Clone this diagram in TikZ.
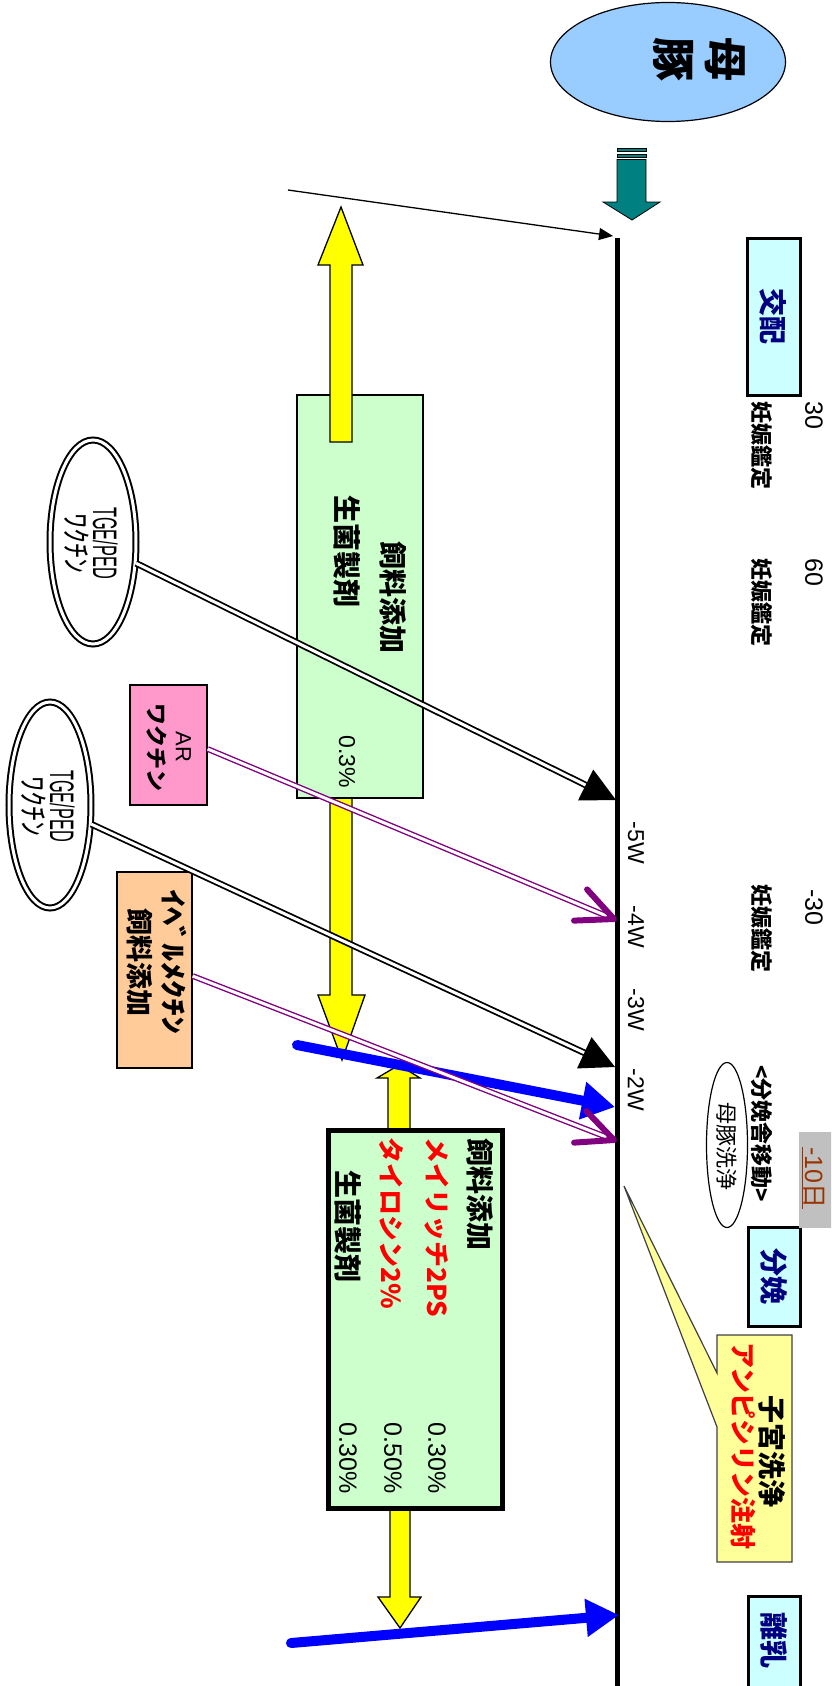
\documentclass[tikz,border=0pt]{standalone}
\usepackage{fontspec}
\setmainfont{Liberation Sans}
\newfontfamily\jp{Noto Sans CJK JP}
\usetikzlibrary{arrows.meta,calc,shapes.geometric}
\definecolor{skyb}{RGB}{153,204,255}
\definecolor{tealc}{RGB}{0,128,128}
\definecolor{cyanbox}{RGB}{204,255,255}
\definecolor{greenbox}{RGB}{204,255,204}
\definecolor{navyt}{RGB}{0,0,128}
\definecolor{pinkbox}{RGB}{255,153,204}
\definecolor{orangebox}{RGB}{255,204,153}
\definecolor{calloutc}{RGB}{255,255,153}
\definecolor{purplec}{RGB}{128,0,128}
\definecolor{brownt}{RGB}{153,51,0}
\definecolor{grayb}{RGB}{192,192,192}
\definecolor{redt}{RGB}{255,0,0}
\definecolor{yellowc}{RGB}{255,255,0}
\definecolor{bluec}{RGB}{0,0,255}
\newcommand\fsz[1]{\fontsize{#1}{#1}\selectfont}
\begin{document}
\begin{tikzpicture}[x=1pt,y=-1pt,
  jb/.style={rotate=-90, inner sep=0pt, font=\jp\bfseries\fsz{#1}},
  jr/.style={rotate=-90, inner sep=0pt, font=\jp\fsz{#1}},
  lr/.style={rotate=-90, inner sep=0pt, font=\fsz{#1}},
  cyanrect/.style={draw, line width=3pt, fill=cyanbox, inner sep=0pt},
  greenrect/.style={draw, line width=2pt, fill=greenbox, inner sep=0pt},
  yarrow/.style={fill=yellowc, draw=black, line width=1.3pt, line join=miter},
  dblack/.style={draw=black, double=white, double distance=3pt, line width=1.8pt},
  dpurple/.style={draw=purplec, double=white, double distance=3pt, line width=1.4pt},
  purplev/.style={draw=purplec, line width=6pt, line cap=round, line join=round},
  bluearr/.style={draw=bluec, line width=10pt, line cap=round, -{Triangle[length=33pt,width=36pt]}},
  dellipse/.style={ellipse, draw=black, double=white, double distance=3pt, line width=2pt, fill=white, inner sep=0pt},
  etext/.style={rotate=-90, inner sep=0pt, align=center, font=\fontsize{34}{28}\selectfont}
]
\useasboundingbox (0,0) rectangle (831,1686);
\clip (0,0) rectangle (831,1686);
\fill[white] (0,0) rectangle (831,1686);

% sow ellipse
\node[ellipse, draw=black, line width=1.2pt, fill=skyb, minimum width=235pt, minimum height=119pt] (sow) at (668,62) {};
\node[rotate=-90, inner sep=0pt, font=\jp\bfseries\fontsize{44}{52}\selectfont, align=center] (sowt) at (699,60) {母\\豚};

% teal arrow
\filldraw[fill=tealc, draw=black, line width=0.8pt] (617,148) rectangle (646,151.5);
\filldraw[fill=tealc, draw=black, line width=0.8pt] (617,154) rectangle (646,157);
\filldraw[fill=tealc, draw=black, line width=0.8pt] (617,159.5) -- (646,159.5) -- (646,202) -- (660,202) -- (632,220) -- (603,202) -- (617,202) -- cycle;

% timeline
\coordinate (tlTop) at (617,238);
\coordinate (tlBot) at (617,1700);
\draw[line width=5pt] (tlTop) -- (tlBot);

% right column
\node[cyanrect, minimum width=53pt, minimum height=157pt] (kohai) at (773.5,316.5) {};
\node[jb=28, text=navyt] (kohait) at (773.5,316.5) {交配};
\node[cyanrect, minimum width=52pt, minimum height=99pt] (bunben) at (774,1276.5) {};
\node[jb=28, text=navyt] (bunbent) at (774,1276.5) {分娩};
\node[cyanrect, minimum width=52pt, minimum height=104pt] (rinyu) at (774,1648) {};
\node[jb=28, text=navyt] (rinyut) at (774,1640) {離乳};

\node[lr=25, anchor=west] (n30) at (814,401) {30};
\node[jb=22, anchor=west] (k30) at (762,401) {妊娠鑑定};
\node[lr=25, anchor=west] (n60) at (814,558) {60};
\node[jb=22, anchor=west] (k60) at (762,558) {妊娠鑑定};
\node[lr=25, anchor=west] (nm30) at (814,889) {-30};
\node[jb=22, anchor=west] (km30) at (762,884) {妊娠鑑定};
\node[jb=22, anchor=west] (move) at (762,1065) {<分娩舎移動>};
\node[ellipse, draw=black, line width=1.2pt, fill=white, minimum width=41pt, minimum height=165pt] (wash) at (727,1145) {};
\node[jr=22] (washt) at (727,1146) {母豚洗浄};
\fill[grayb] (799,1132) rectangle (840,1228);
\node[lr=25, text=brownt] (d10) at (813,1178) {\underline{-10{\jp 日}}};

% callout
\coordinate (calltip) at (624,1186);
\filldraw[fill=calloutc, draw=black!75, line width=1.2pt] (717,1335) -- (792,1335) -- (792,1562) -- (717,1562) -- (717,1427) -- (calltip) -- (717,1373) -- cycle;
\node[jb=28] (cl1) at (772,1451) {子宮洗浄};
\node[jb=26, text=redt] (cl2) at (743,1446) {アンピシリン注射};

% week labels
\node[lr=23] (w5) at (636,843) {-5W};
\node[lr=23] (w4) at (636,927) {-4W};
\node[lr=23] (w3) at (636,1010) {-3W};
\node[lr=23] (w2) at (636,1090) {-2W};

% thin arrow to mating
\coordinate (thinS) at (288,190);
\draw[line width=1.3pt, -{Triangle[length=14pt,width=12pt]}] (thinS) -- (613,236);

% yellow arrows under boxes
\filldraw[yarrow] (330,798) -- (330,995) -- (318,995) -- (342,1060) -- (365,995) -- (352,995) -- (352,798) -- cycle;
\filldraw[yarrow] (388,1132) -- (388,1078) -- (377,1078) -- (399,1065) -- (420,1078) -- (410,1078) -- (410,1132) -- cycle;
\filldraw[yarrow] (390,1508) -- (390,1597) -- (378,1597) -- (400,1628) -- (421,1597) -- (410,1597) -- (410,1508) -- cycle;

% box 1
\node[greenrect, minimum width=126pt, minimum height=403pt] (box1) at (360,596.5) {};
\filldraw[yarrow] (330,442) -- (330,265) -- (318,265) -- (341,207) -- (363,265) -- (352,265) -- (352,442) -- cycle;
\node[jb=28] (b1a) at (393,597) {飼料添加};
\node[jb=28, anchor=west] (b1b) at (347,495) {生菌製剤};
\node[lr=23, anchor=east] (b1c) at (347,788) {0.3\%};

% box 2
\node[draw, line width=5pt, fill=greenbox, inner sep=0pt, minimum width=174pt, minimum height=378pt] (box2) at (415,1319) {};
\node[jb=28, anchor=west] (b2a) at (480,1138) {飼料添加};
\node[jb=26, anchor=west, text=redt] (b2b) at (437,1137) {メイリッチ2PS};
\node[jb=26, anchor=west, text=redt] (b2c) at (392,1137) {タイロシン2\%};
\node[jb=28, anchor=west] (b2d) at (348,1170) {生菌製剤};
\node[lr=25, anchor=east] (b2e) at (437,1494) {0.30\%};
\node[lr=25, anchor=east] (b2f) at (393,1494) {0.50\%};
\node[lr=25, anchor=east] (b2g) at (348,1494) {0.30\%};

% left side nodes
\node[dellipse, minimum width=86pt, minimum height=204pt] (e1) at (93,542) {};
\node[etext] (e1t) at (91,543) {\scalebox{0.48}[1]{TGE/PED}\\{\jp\fontsize{30}{30}\selectfont ﾜｸﾁﾝ}};
\node[dellipse, minimum width=82pt, minimum height=206pt] (e2) at (50,805) {};
\node[etext] (e2t) at (48,806) {\scalebox{0.48}[1]{TGE/PED}\\{\jp\fontsize{30}{30}\selectfont ﾜｸﾁﾝ}};
\node[draw, line width=1.3pt, fill=pinkbox, minimum width=77pt, minimum height=120pt, inner sep=0pt] (ar) at (168.5,745) {};
\node[rotate=-90, inner sep=0pt, align=center, font=\fontsize{22}{27}\selectfont] (art) at (169,747) {AR\\{\jp\bfseries ワクチン}};
\node[draw, line width=1.3pt, fill=orangebox, minimum width=75pt, minimum height=196pt, inner sep=0pt] (iv) at (154.5,970) {};
\node[rotate=-90, inner sep=0pt, align=center, font=\jp\bfseries\fontsize{27}{34}\selectfont] (ivt) at (157,962) {\scalebox{1.35}[1]{ｲﾍﾞﾙﾒｸﾁﾝ}\\飼料添加};

% blue arrows
\coordinate (bl1s) at (297,1045);
\coordinate (bl1t) at (615,1107);
\coordinate (bl2s) at (291,1643);
\coordinate (bl2t) at (619,1615);
\draw[bluearr] (bl1s) -- (bl1t);
\draw[bluearr] (bl2s) -- (bl2t);

% black double arrows
\coordinate (k1t) at (616,800);
\coordinate (k2t) at (615,1067);
\draw[dblack, shorten >=30pt] (e1) -- (k1t);
\fill ($(k1t)!38pt!27:(e1)$) -- (k1t) -- ($(k1t)!38pt!-27:(e1)$) -- cycle;
\draw[dblack, shorten >=30pt] (e2) -- (k2t);
\fill ($(k2t)!38pt!27:(e2)$) -- (k2t) -- ($(k2t)!38pt!-27:(e2)$) -- cycle;

% purple double arrows
\coordinate (p1s) at ($(ar.east)+(0,4)$);
\coordinate (p1t) at (614,919);
\coordinate (p2s) at ($(iv.east)+(0,6)$);
\coordinate (p2t) at (614,1140);
\draw[dpurple, shorten >=4pt] (p1s) -- (p1t);
\draw[purplev] ($(p1t)!40pt!25:(p1s)$) -- (p1t) -- ($(p1t)!40pt!-25:(p1s)$);
\draw[dpurple, shorten >=4pt] (p2s) -- (p2t);
\draw[purplev] ($(p2t)!40pt!25:(p2s)$) -- (p2t) -- ($(p2t)!40pt!-25:(p2s)$);
\end{tikzpicture}
\end{document}
